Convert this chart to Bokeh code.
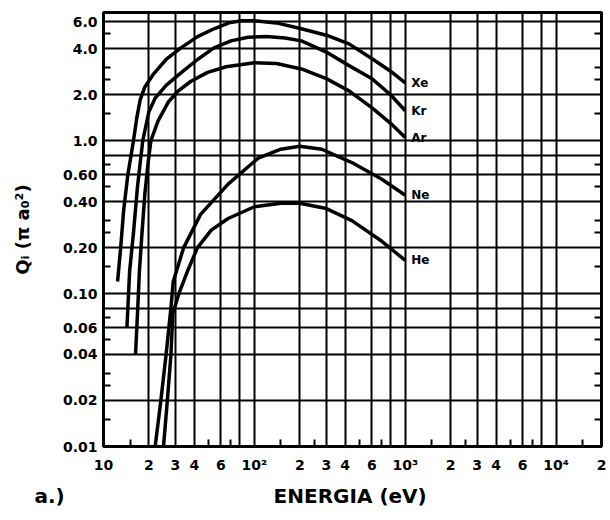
from bokeh.plotting import figure
from bokeh.models import FixedTicker, LogAxis, Title, Range1d
from bokeh.embed import file_html
from bokeh.resources import INLINE
from bokeh.core.properties import value

# ---- data ----
names = ["Xe", "Kr", "Ar", "Ne", "He"]

xe_e = [12.4, 13.0, 13.6, 14.5, 15.8, 16.6, 17.5, 18.8, 21.5, 26, 32.6, 42, 54, 68, 82, 100, 140, 205, 300, 424, 603, 800, 1000]
xe_q = [0.12, 0.2, 0.35, 0.6, 1.0, 1.4, 1.85, 2.25, 2.74, 3.4, 4.05, 4.8, 5.4, 5.9, 6.1, 6.1, 5.9, 5.4, 4.9, 4.3, 3.44, 2.85, 2.39]

kr_e = [14.3, 14.9, 15.8, 16.8, 18.2, 20, 22, 26, 32.6, 42, 54, 70, 91, 120, 160, 205, 300, 424, 603, 800, 1000]
kr_q = [0.06, 0.14, 0.25, 0.5, 1.0, 1.55, 1.9, 2.3, 2.78, 3.4, 4.05, 4.5, 4.75, 4.8, 4.7, 4.5, 3.8, 3.1, 2.54, 2.0, 1.57]

ar_e = [16.3, 16.8, 17.3, 18.0, 18.8, 19.7, 20.6, 23, 27, 31, 38, 49, 65, 100, 140, 205, 300, 424, 603, 800, 1000]
ar_q = [0.04, 0.074, 0.14, 0.25, 0.45, 0.7, 1.0, 1.35, 1.8, 2.1, 2.45, 2.8, 3.05, 3.24, 3.2, 2.95, 2.55, 2.12, 1.64, 1.3, 1.05]

ne_e = [22, 24, 26, 28, 29, 34, 44, 67, 106, 150, 200, 280, 443, 700, 1000]
ne_q = [0.01, 0.02, 0.04, 0.081, 0.12, 0.2, 0.33, 0.52, 0.77, 0.88, 0.92, 0.88, 0.72, 0.56, 0.44]

he_e = [25, 26.5, 28, 28.8, 31.6, 36, 42, 51.8, 67, 100, 150, 200, 300, 443, 700, 1000]
he_q = [0.01, 0.02, 0.04, 0.074, 0.1, 0.14, 0.2, 0.26, 0.31, 0.37, 0.39, 0.39, 0.36, 0.30, 0.22, 0.165]

x_major = [10, 20, 30, 40, 60, 100, 200, 300, 400, 600, 1000, 2000, 3000, 4000, 6000, 10000, 20000]
x_labels = ["10", "2", "3", "4", "6", "10²", "2", "3", "4", "6", "10³", "2", "3", "4", "6", "10⁴", "2"]
x_grid = [10, 20, 30, 40, 60, 80, 100, 200, 300, 400, 600, 800, 1000, 2000, 3000, 4000, 6000, 8000, 10000, 20000]
x_minor = [15, 25, 50, 70, 150, 250, 500, 700, 1500, 2500, 5000, 7000, 15000]

y_major = [0.01, 0.02, 0.04, 0.06, 0.1, 0.2, 0.4, 0.6, 1, 2, 4, 6]
y_labels = ["0.01", "0.02", "0.04", "0.06", "0.10", "0.20", "0.40", "0.60", "1.0", "2.0", "4.0", "6.0"]
y_grid = [0.01, 0.02, 0.04, 0.06, 0.08, 0.1, 0.2, 0.4, 0.6, 0.8, 1, 2, 4, 6]
y_minor = [0.015, 0.025, 0.03, 0.05, 0.07, 0.15, 0.25, 0.3, 0.5, 0.7, 1.5, 2.5, 3, 5]

panel_tag = "a.)"
x_title = "ENERGIA (eV)"
y_title = "Qᵢ (π a₀²)"

series = [(xe_e, xe_q), (kr_e, kr_q), (ar_e, ar_q), (ne_e, ne_q), (he_e, he_q)]

FONT = "DejaVu Sans"

p = figure(frame_width=498, frame_height=434, x_axis_type="log", y_axis_type="log",
           x_range=Range1d(10, 20000), y_range=Range1d(0.01, 6.9),
           output_backend="svg", toolbar_location=None,
           min_border_left=103, min_border_right=7, min_border_top=12, min_border_bottom=64)

p.background_fill_color = "white"
p.border_fill_color = "white"
p.outline_line_color = "black"
p.outline_line_width = 3

# grids
p.xgrid.ticker = FixedTicker(ticks=x_grid)
p.ygrid.ticker = FixedTicker(ticks=y_grid)
for g in (p.xgrid, p.ygrid):
    g.grid_line_color = "black"
    g.grid_line_width = 2
    g.grid_line_alpha = 1.0

# axes
xa = p.xaxis[0]
xa.ticker = FixedTicker(ticks=x_major, minor_ticks=x_minor)
xa.major_label_overrides = {v: t for v, t in zip(x_major, x_labels)}
ya = p.yaxis[0]
ya.ticker = FixedTicker(ticks=y_major, minor_ticks=y_minor)
ya.major_label_overrides = {v: t for v, t in zip(y_major, y_labels)}

for ax in (xa, ya):
    ax.axis_line_width = 3
    ax.axis_line_color = "black"
    ax.major_tick_in = 0
    ax.major_tick_out = 0
    ax.minor_tick_in = 7
    ax.minor_tick_out = 0
    ax.minor_tick_line_width = 2
    ax.minor_tick_line_color = "black"
    ax.major_label_text_font = FONT
    ax.major_label_text_font_style = "bold"
    ax.major_label_text_font_size = "14px"
    ax.major_label_text_color = "black"
    ax.axis_label_text_font = FONT
    ax.axis_label_text_font_style = "bold"
    ax.axis_label_text_color = "black"

xa.major_label_standoff = 10

ya.major_label_standoff = 6
ya.axis_label = y_title
ya.axis_label_text_font_size = "18px"
ya.axis_label_standoff = 27

ra = LogAxis(ticker=FixedTicker(ticks=y_major, minor_ticks=y_minor),
             major_label_text_font_size="1px", major_label_text_alpha=0,
             major_label_standoff=0, major_tick_in=0, major_tick_out=0,
             minor_tick_in=7, minor_tick_out=0, minor_tick_line_width=2,
             axis_line_width=3)
p.add_layout(ra, "right")

# curves
for e, q in series:
    p.line(e, q, line_color="black", line_width=3.5)

# curve labels at curve ends
p.text(x=[s[0][-1] for s in series], y=[s[1][-1] for s in series], text=names,
       text_font=value(FONT), text_font_style="bold", text_font_size="12px",
       text_baseline="middle", text_align="left", x_offset=6, text_color="black")

# bottom row: panel tag at the far left and the x-axis title in the middle
# (one title, so both sit on the same line; a title is not clipped to the frame)
bottom = Title(text=panel_tag + "\u00a0" * 30 + x_title, align="left", offset=-69, standoff=12,
               text_font=FONT, text_font_style="bold", text_font_size="20px",
               text_color="black")
p.add_layout(bottom, "below")

open("out.html", "w").write(file_html(p, INLINE))
